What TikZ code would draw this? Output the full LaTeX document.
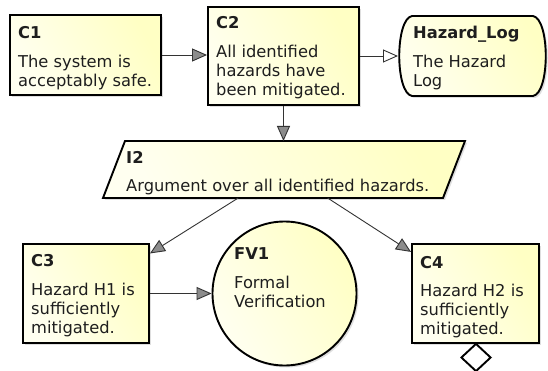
\documentclass[tikz,border=0pt]{standalone}
\usepackage{fontspec}
\setmainfont{DejaVu Sans}
\usetikzlibrary{arrows.meta,shapes.geometric,shadows}
\definecolor{ylight}{RGB}{255,255,240}
\definecolor{ydark}{RGB}{255,255,196}
\definecolor{txt}{RGB}{30,30,30}
\definecolor{headfill}{RGB}{140,140,140}
\tikzset{
  gsnfill/.style={left color=ylight, right color=ydark, shading angle=120,
    drop shadow={opacity=0.25, shadow xshift=2pt, shadow yshift=-2pt}},
  gsnbox/.style={draw=black, line width=1.9pt, gsnfill, inner sep=0pt},
  ttl/.style={font=\fontsize{16.3}{19}\selectfont\bfseries, text=txt, inner sep=0pt, anchor=base west},
  bdy/.style={font=\fontsize{16.3}{19}\selectfont, text=txt, inner sep=0pt, anchor=north west, align=left, yshift=13.3pt},
  supp/.style={draw=black!80, line width=0.9pt, -{Triangle[length=15pt,width=13pt,fill=headfill]}},
  ctx/.style={draw=black!80, line width=0.9pt, -{Triangle[length=15pt,width=13pt,fill=white]}},
  anchorbox/.style={draw=none, inner sep=0pt, outer sep=0pt}
}
\begin{document}
\begin{tikzpicture}[x=1pt, y=-1pt]
\useasboundingbox[fill=white] (0,0) rectangle (548,371);

% C1
\node[gsnbox, minimum width=151pt, minimum height=80pt] (c1) at (85.5,55) {};
\node[ttl] (c1t) at (18,39) {C1};
\node[bdy] (c1b) at (18,67) {\strut The system is\\acceptably safe.};

% C2
\node[gsnbox, minimum width=151pt, minimum height=98pt] (c2) at (283.5,56) {};
\node[ttl] (c2t) at (216,29) {C2};
\node[bdy] (c2b) at (216,57) {\strut All identified\\hazards have\\been mitigated.};

% Hazard_Log
\node[anchorbox, minimum width=150pt, minimum height=80pt] (hl) at (473,56) {};
\path[gsnfill, draw=black, line width=1.9pt]
  (412,16) -- (533,16) .. controls (550,19) and (550,93) .. (533,96)
  -- (412,96) .. controls (395,93) and (395,19) .. (412,16) -- cycle;
\node[ttl] (hlt) at (413,39) {Hazard\_Log};
\node[bdy] (hlb) at (413,67) {\strut The Hazard\\Log};

% I2
\node[anchorbox, minimum width=362pt, minimum height=57pt] (i2) at (283.5,169.5) {};
\path[gsnfill, draw=black, line width=1.9pt]
  (125,141) -- (465,141) -- (443,198) -- (103,198) -- cycle;
\node[ttl] (i2t) at (126,164) {I2};
\node[bdy] (i2b) at (126,191) {\strut Argument over all identified hazards.};

% C3
\node[gsnbox, minimum width=126pt, minimum height=99pt] (c3) at (86,293.5) {};
\node[ttl] (c3t) at (31,266) {C3};
\node[bdy] (c3b) at (31,295) {\strut Hazard H1 is\\sufficiently\\mitigated.};

% FV1
\node[gsnbox, circle, minimum size=144pt] (fv1) at (284.5,293.5) {};
\node[ttl] (fv1t) at (234,259) {FV1};
\node[bdy] (fv1b) at (234,288) {\strut Formal\\Verification};

% C4
\node[gsnbox, minimum width=127pt, minimum height=99pt] (c4) at (475.5,293.5) {};
\node[ttl] (c4t) at (420,268) {C4};
\node[bdy] (c4b) at (420,296) {\strut Hazard H2 is\\sufficiently\\mitigated.};

% undeveloped diamond
\node[diamond, draw=black, line width=1.9pt, fill=white, minimum width=30pt, minimum height=28pt, inner sep=0pt] (und) at (476,357.5) {};

% connectors
\draw[supp] (c1.east) -- (c1.east -| c2.west);
\draw[ctx] (c2) -- (hl);
\draw[supp] (c2) -- (i2);
\draw[supp] (i2) -- (c3);
\draw[supp] (i2) -- (c4);
\draw[supp] (c3) -- (fv1);
\end{tikzpicture}
\end{document}
